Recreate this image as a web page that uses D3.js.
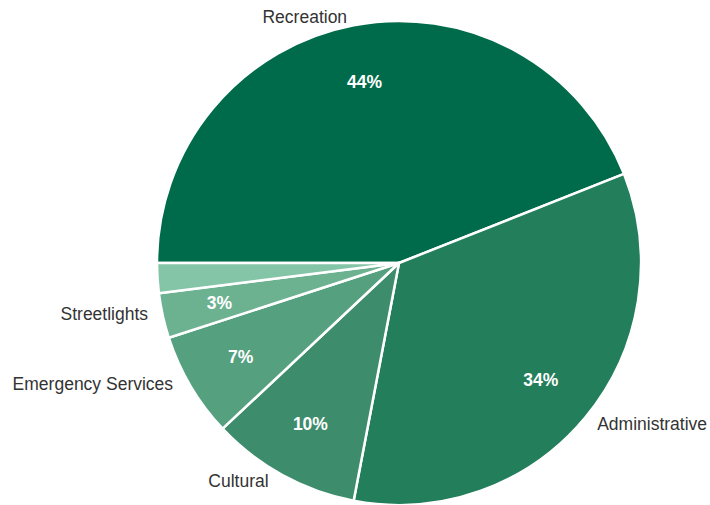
<!DOCTYPE html>
<html>
<head>
<meta charset="utf-8">
<script src="https://cdn.jsdelivr.net/npm/d3@7"></script>
<style>
  html, body { margin: 0; padding: 0; background: #fff; }
  svg { display: block; }
</style>
</head>
<body>
<svg id="chart" width="710" height="505"></svg>
<script>
// Budget share by department (percent)
const categories = ["Recreation", "Administrative", "Cultural", "Emergency Services", "Streetlights", "Other"];
const shares = [44, 34, 10, 7, 3, 2];
const showName = [true, true, true, true, true, false];
const showPct = [true, true, true, true, true, false];
const colors = ["#006b4a", "#237e5b", "#3d8d6d", "#55a07f", "#6cb291", "#84c5a7"];

// Nudges for the outside name labels, relative to their arc anchor point
const nameNudge = [
  { dx: -47, dy: 1, anchor: "middle" },
  { dx: 4, dy: 0, anchor: "start" },
  { dx: -9, dy: -3, anchor: "end" },
  { dx: -9, dy: -7, anchor: "end" },
  { dx: -5, dy: -4, anchor: "end" },
  { dx: 0, dy: 0, anchor: "end" }
];

const W = 710, H = 505;
const cx = 399, cy = 263, R = 242;
const font = "'Liberation Sans', Arial, sans-serif";

const data = categories.map((name, i) => ({ name, value: shares[i], i }));

const pie = d3.pie()
  .value(d => d.value)
  .sort(null)
  .startAngle(-Math.PI / 2)
  .endAngle(3 * Math.PI / 2);

const arcs = pie(data);
const arc = d3.arc().innerRadius(0).outerRadius(R);
const pctArc = d3.arc().innerRadius(R * 0.76).outerRadius(R * 0.76);
const nameArc = d3.arc().innerRadius(R + 10).outerRadius(R + 10);

const svg = d3.select("#chart");
const g = svg.append("g").attr("transform", `translate(${cx},${cy})`);

g.selectAll("path.slice")
  .data(arcs)
  .join("path")
  .attr("class", "slice")
  .attr("d", arc)
  .attr("fill", d => colors[d.data.i])
  .attr("stroke", "#ffffff")
  .attr("stroke-width", 2.5)
  .attr("stroke-linejoin", "round");

g.selectAll("text.pct")
  .data(arcs.filter(d => showPct[d.data.i]))
  .join("text")
  .attr("class", "pct")
  .attr("transform", d => `translate(${pctArc.centroid(d)})`)
  .attr("text-anchor", "middle")
  .attr("dy", "0.35em")
  .attr("fill", "#ffffff")
  .attr("font-family", font)
  .attr("font-weight", "bold")
  .attr("font-size", "17.5px")
  .text(d => d3.format(".0f")(d.data.value) + "%");

g.selectAll("text.name")
  .data(arcs.filter(d => showName[d.data.i]))
  .join("text")
  .attr("class", "name")
  .attr("transform", d => {
    const [x, y] = nameArc.centroid(d);
    const n = nameNudge[d.data.i];
    return `translate(${x + n.dx},${y + n.dy})`;
  })
  .attr("text-anchor", d => nameNudge[d.data.i].anchor)
  .attr("dy", "0.35em")
  .attr("fill", "#333333")
  .attr("font-family", font)
  .attr("font-size", "17.5px")
  .text(d => d.data.name);
</script>
</body>
</html>
